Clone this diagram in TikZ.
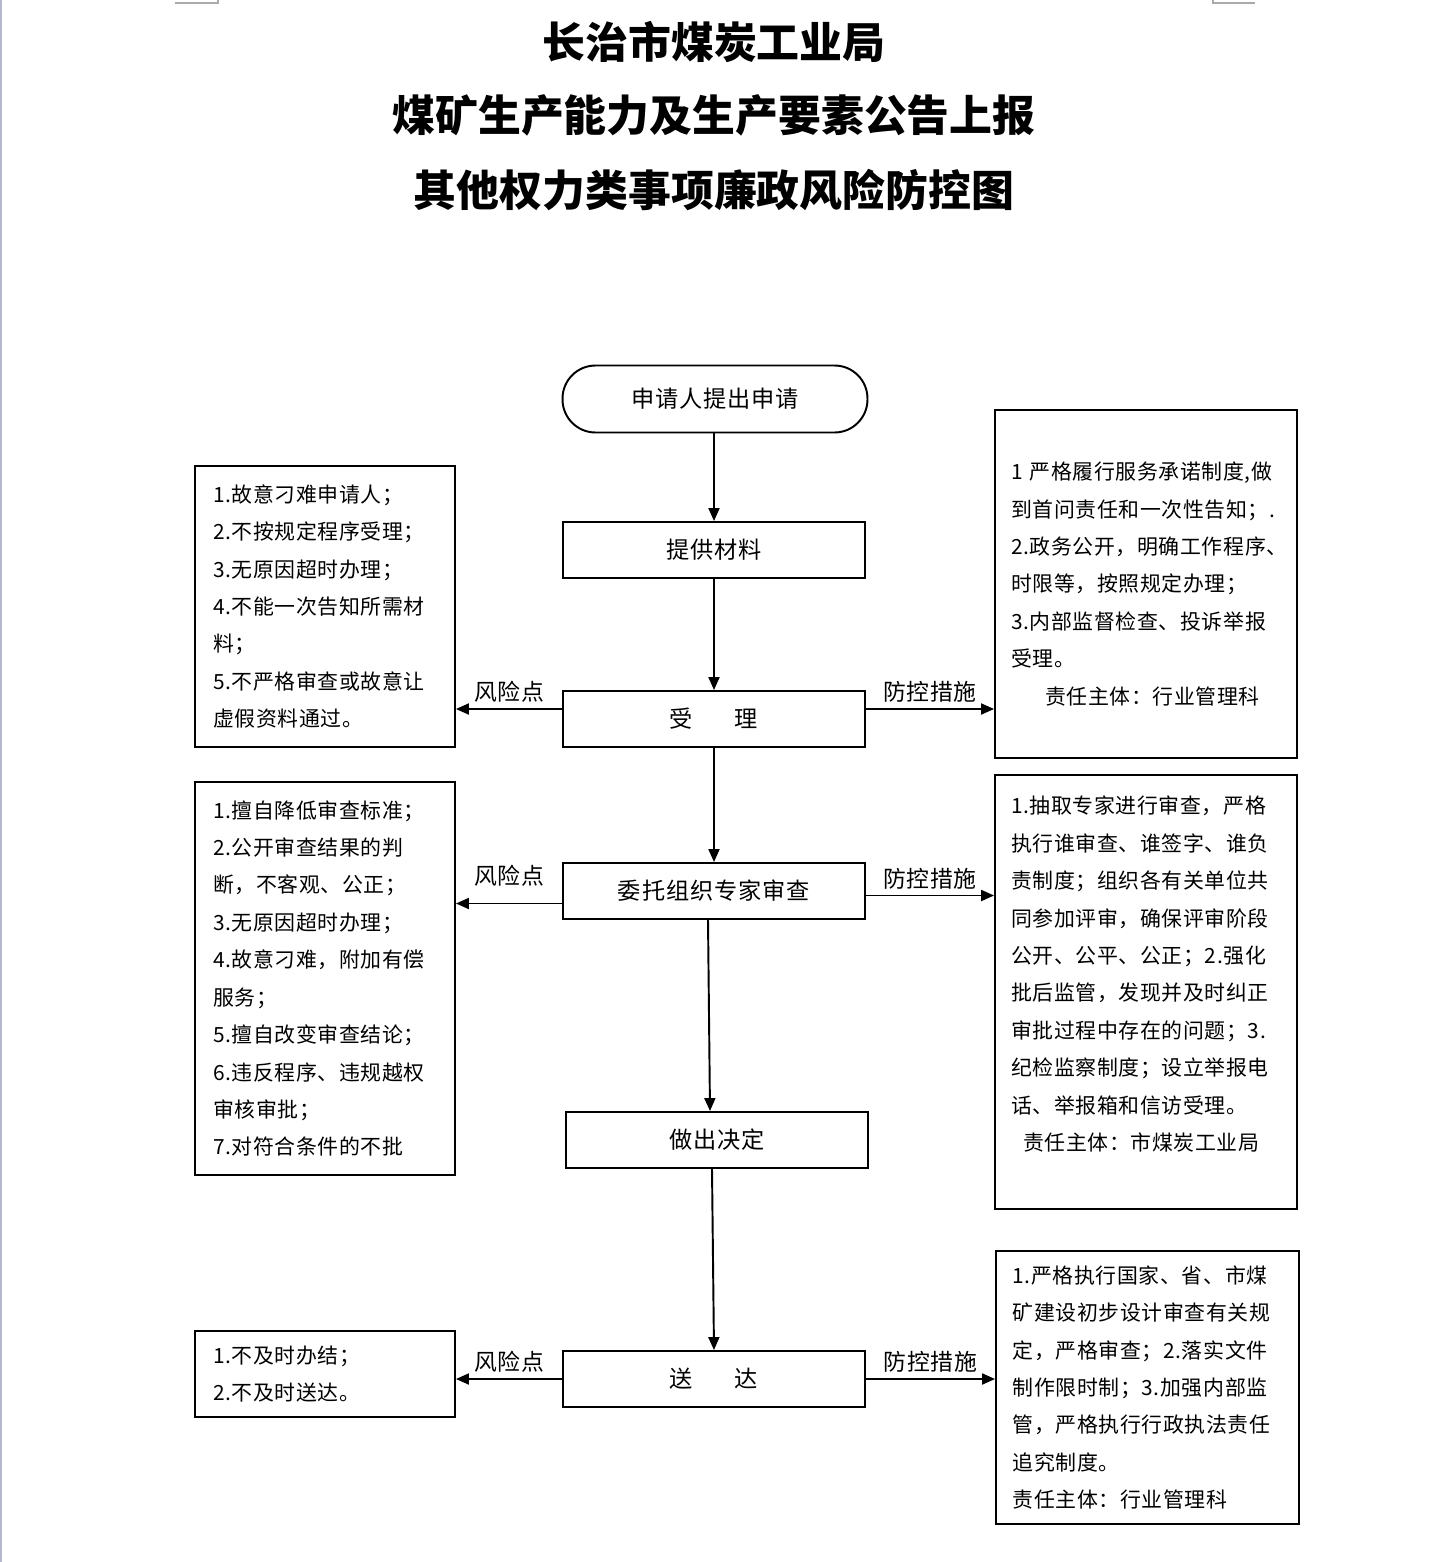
\documentclass[tikz,border=0pt]{standalone}
\usepackage{fontspec}
\setmainfont{Noto Sans CJK SC}
\usepackage{xcolor}
\usepackage{tikz}
\usetikzlibrary{positioning, arrows.meta}
\definecolor{pageedge}{RGB}{182,182,204}
\definecolor{cropgrey}{RGB}{170,170,170}

\begin{document}
\begin{tikzpicture}[
  x=0.02cm, y=-0.02cm,
  >={Triangle[length=2.6mm, width=2.2mm]},
  title/.style={font=\fontsize{24.4}{28}\selectfont\bfseries},
  startbox/.style={draw, line width=1.1pt, rounded corners=0.66cm,
                   minimum width=6.1cm, minimum height=1.34cm,
                   font=\fontsize{13.2}{16}\selectfont\addfontfeature{LetterSpace=4}},
  stepbox/.style={draw, line width=1.1pt, minimum width=6.04cm, minimum height=1.12cm,
                  font=\fontsize{13.2}{16}\selectfont\addfontfeature{LetterSpace=4}},
  riskbox/.style={draw, line width=1.1pt, minimum width=5.2cm, text width=4.48cm,
                  align=left, font=\fontsize{11.9}{21.3}\selectfont\addfontfeature{LetterSpace=3}},
  ctrlbox/.style={draw, line width=1.1pt, minimum width=6.04cm, text width=5.4cm,
                  align=left, font=\fontsize{11.9}{21.3}\selectfont\addfontfeature{LetterSpace=3}},
  flow/.style={->, line width=1.1pt},
  side/.style={->, line width=1.1pt},
  lbl/.style={font=\fontsize{13}{15}\selectfont\addfontfeature{LetterSpace=3}, inner sep=3pt}
]
\useasboundingbox (0,0) rectangle (1428,1562);

% ---- page edge and crop marks ----
\fill[pageedge] (0,0) rectangle (2.5,1562);
\draw[cropgrey, line width=0.6pt] (175,3) -- (218,3) -- (218,0);
\draw[cropgrey, line width=0.6pt] (1213,0) -- (1213,3) -- (1255,3);

% ---- Title ----
\node[title] (t1) at (714,42)  {长治市煤炭工业局};
\node[title] (t2) at (714,115) {煤矿生产能力及生产要素公告上报};
\node[title] (t3) at (714,190) {其他权力类事项廉政风险防控图};

% ---- Main column ----
\node[startbox] (apply) at (715,399) {申请人提出申请};
\node[stepbox] (cl) at (714,550)  {提供材料};
\node[stepbox] (sl) at (714,719)  {受\hspace{1.8em}理};
\node[stepbox] (sc) at (714,891)  {委托组织专家审查};
\node[stepbox] (jd) at (717,1140) {做出决定};
\node[stepbox] (sd) at (714,1379) {送\hspace{1.8em}达};

\draw[flow] (cl.north |- apply.south) -- (cl.north);
\draw[flow] (cl.south) -- (sl.north);
\draw[flow] (sl.south) -- (sc.north);
\draw[flow] ([xshift=-0.12cm]sc.south) -- ([xshift=-0.14cm]jd.north);
\draw[flow] ([xshift=-0.1cm]jd.south) -- (sd.north);

% ---- Risk points (left) ----
\node[riskbox, minimum height=5.62cm] (risk1) at (325,606.5)
  {1.故意刁难申请人；\\2.不按规定程序受理；\\3.无原因超时办理；\\
   4.不能一次告知所需材\\料；\\5.不严格审查或故意让\\虚假资料通过。};
\node[riskbox, minimum height=7.86cm] (risk2) at (325,978.5)
  {1.擅自降低审查标准；\\2.公开审查结果的判\\断，不客观、公正；\\
   3.无原因超时办理；\\4.故意刁难，附加有偿\\服务；\\5.擅自改变审查结论；\\
   6.违反程序、违规越权\\审核审批；\\7.对符合条件的不批};
\node[riskbox, minimum height=1.72cm] (risk3) at (325,1374)
  {1.不及时办结；\\2.不及时送达。};

% ---- Control measures (right) ----
\node[ctrlbox, minimum height=6.96cm] (ctrl1) at (1146,584)
  {1~严格履行服务承诺制度,做\\到首问责任和一次性告知；.\\
   2.政务公开，明确工作程序、\\时限等，按照规定办理；\\
   3.内部监督检查、投诉举报\\受理。\\
   \hspace*{0.68cm}责任主体：行业管理科};
\node[ctrlbox, minimum height=8.68cm] (ctrl2) at (1146,992)
  {1.抽取专家进行审查，严格\\执行谁审查、谁签字、谁负\\
   责制度；组织各有关单位共\\同参加评审，确保评审阶段\\
   公开、公平、公正；2.强化\\批后监管，发现并及时纠正\\
   审批过程中存在的问题；3.\\纪检监察制度；设立举报电\\
   话、举报箱和信访受理。\\\hspace*{0.24cm}责任主体：市煤炭工业局\\\mbox{}};
\node[ctrlbox, minimum height=5.46cm, minimum width=6.06cm] (ctrl3) at (1147.5,1387.5)
  {1.严格执行国家、省、市煤\\矿建设初步设计审查有关规\\
   定，严格审查；2.落实文件\\制作限时制；3.加强内部监\\
   管，严格执行行政执法责任\\追究制度。\\责任主体：行业管理科};

% ---- Side arrows ----
\coordinate (a1) at ([yshift=0.2cm]sl.west);
\coordinate (b1) at ([yshift=0.2cm]sl.east);
\coordinate (a2) at ([yshift=-0.25cm]sc.west);
\coordinate (b2) at ([yshift=-0.09cm]sc.east);
\coordinate (a3) at (sd.west);
\coordinate (b3) at (sd.east);

\draw[side] (a1) -- (a1 -| risk1.east) node[midway, above, lbl] {风险点};
\draw[side] (b1) -- (b1 -| ctrl1.west) node[midway, above, lbl] {防控措施};
\draw[side] (a2) -- (a2 -| risk2.east) node[midway, above=6pt, lbl] {风险点};
\draw[side] (b2) -- (b2 -| ctrl2.west) node[midway, above, lbl] {防控措施};
\draw[side] (a3) -- (a3 -| risk3.east) node[midway, above, lbl] {风险点};
\draw[side] (b3) -- (b3 -| ctrl3.west) node[midway, above, lbl] {防控措施};

\end{tikzpicture}
\end{document}
